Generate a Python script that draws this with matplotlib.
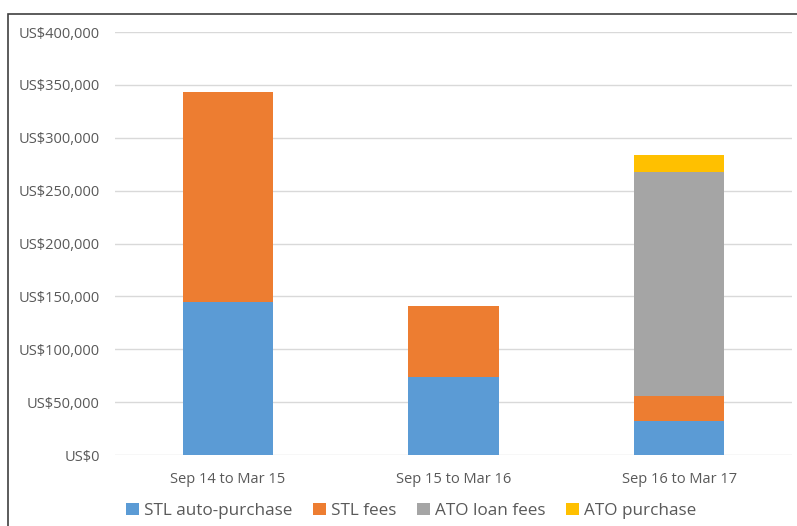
import matplotlib
matplotlib.use("Agg")
import matplotlib.pyplot as plt
from matplotlib.patches import Rectangle
from matplotlib.ticker import FuncFormatter
import numpy as np

categories = ["Sep 14 to Mar 15", "Sep 15 to Mar 16", "Sep 16 to Mar 17"]
series_names = ["STL auto-purchase", "STL fees", "ATO loan fees", "ATO purchase"]
stl_auto = [145000, 74000, 32000]
stl_fees = [198000, 67000, 24000]
ato_loan = [0, 0, 212000]
ato_purchase = [0, 0, 16000]
colors = ["#5B9BD5", "#ED7D31", "#A5A5A5", "#FFC000"]

plt.rcParams['font.family'] = ['Open Sans', 'DejaVu Sans']

fig = plt.figure(figsize=(7.97, 5.26), dpi=100)
ax = fig.add_axes([115/797, 1-455/526, 677/797, 423/526])

x = np.arange(len(categories))
bottom = np.zeros(len(categories))
for name, vals, c in zip(series_names, [stl_auto, stl_fees, ato_loan, ato_purchase], colors):
    ax.bar(x, vals, width=0.4, bottom=bottom, color=c, label=name, zorder=3)
    bottom += np.array(vals)

ax.set_xlim(-0.5, 2.5)
ax.set_ylim(0, 400000)
ax.set_yticks(np.arange(0, 400001, 50000))
ax.yaxis.set_major_formatter(FuncFormatter(lambda v, p: f"US${int(v):,}"))
ax.set_xticks(x)
ax.set_xticklabels(categories)
ax.grid(axis='y', color='#D9D9D9', linewidth=1, zorder=0)
for s in ax.spines.values():
    s.set_visible(False)
ax.tick_params(axis='both', length=0, colors='#595959', labelsize=10.5)
ax.tick_params(axis='y', pad=11)
ax.tick_params(axis='x', pad=12)

leg = fig.legend(loc='center', bbox_to_anchor=(411/797, 1-511/526), ncol=4, frameon=False,
                 fontsize=12.3, handlelength=0.75, handleheight=0.75, handletextpad=0.3,
                 columnspacing=1.2, labelcolor='#595959')

fig.patches.append(Rectangle((8/797, -0.1), 1.1, 1-14/526+0.1, transform=fig.transFigure,
                             fill=False, edgecolor='#404040', linewidth=1.2))

fig.savefig("out.png", dpi=100)
